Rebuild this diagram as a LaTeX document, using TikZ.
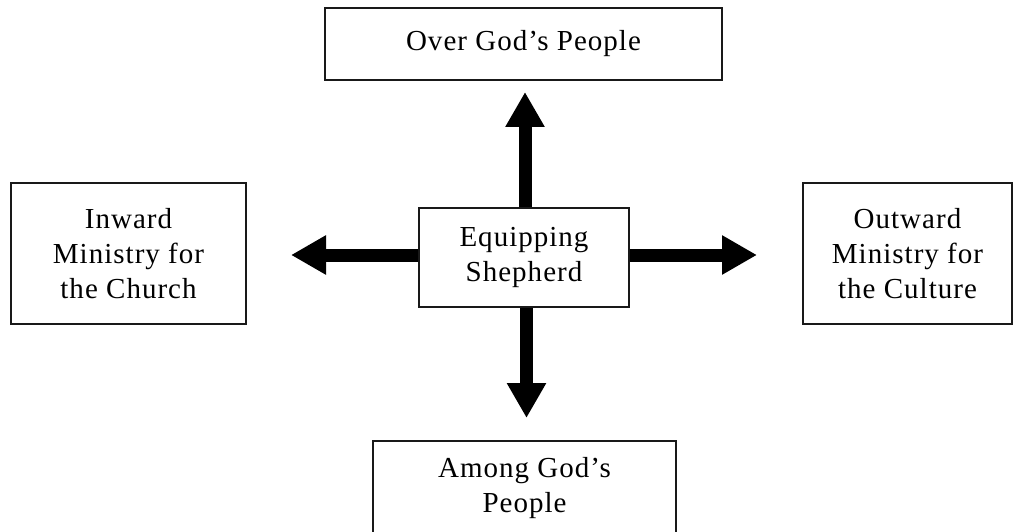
\documentclass[tikz,border=0pt]{standalone}
\usepackage{fontspec}
\setmainfont{Liberation Serif}[LetterSpace=3.5]
\usetikzlibrary{arrows.meta}
\begin{document}
\begin{tikzpicture}[x=1pt,y=-1pt,
  box/.style={draw=black!90,line width=1.6pt,rectangle,align=center,inner sep=0pt,
    font=\fontsize{29}{35}\selectfont},
  bigarrow/.style={line width=13pt,-{Triangle[width=37pt,length=35pt]}}]
\clip (0,0) rectangle (1013,532);
\fill[white] (0,0) rectangle (1013,532);
\node[box,minimum width=397pt,minimum height=72pt] (top) at (523.5,44) {Over God’s People};
\node[box,minimum width=210pt,minimum height=99pt] (c) at (524,257.5) {Equipping\\Shepherd};
\node[box,minimum width=235pt,minimum height=141pt] (l) at (128.5,253.5) {Inward\\Ministry for\\the Church};
\node[box,minimum width=209pt,minimum height=141pt] (r) at (907.5,253.5) {Outward\\Ministry for\\the Culture};
\node[box,minimum width=303pt,minimum height=95pt] (b) at (524.5,488.5) {Among God’s\\People};
\coordinate (tu) at (525,92);
\coordinate (td) at (526.5,418);
\coordinate (tl) at (291,255);
\coordinate (tr) at (757,255);
\draw[bigarrow] (c.north -| tu) -- (tu);
\draw[bigarrow] (c.south -| td) -- (td);
\draw[bigarrow] (c.west |- tl) -- (tl);
\draw[bigarrow] (c.east |- tr) -- (tr);
\end{tikzpicture}
\end{document}
